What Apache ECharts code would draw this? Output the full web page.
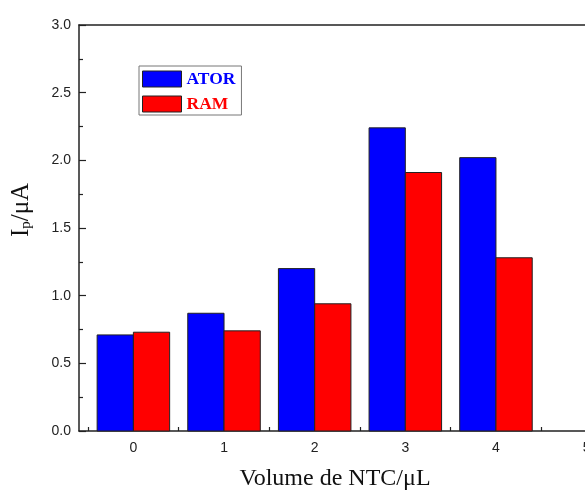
<!DOCTYPE html>
<html>
<head>
<meta charset="utf-8">
<script src="https://cdn.jsdelivr.net/npm/echarts@6/dist/echarts.min.js"></script>
<style>
  html, body { margin: 0; padding: 0; background: #fff; }
  #chart { width: 585px; height: 490px; }
</style>
</head>
<body>
<div id="chart"></div>
<script>
// Peak current vs. volume of NTC for two analytes
const volumes = [0, 1, 2, 3, 4];
const atorValues = [0.71, 0.87, 1.20, 2.24, 2.02];
const ramValues = [0.73, 0.74, 0.94, 1.91, 1.28];
const xTickLabels = [0, 1, 2, 3, 4, 5];
const xTickMarks = [-0.5, 0, 0.5, 1, 1.5, 2, 2.5, 3, 3.5, 4, 4.5, 5, 5.5];
const yTicks = [0, 0.5, 1.0, 1.5, 2.0, 2.5, 3.0];

const BAR_W = 0.4; // bar width in axis units

function barRenderer(offset) {
  return function (params, api) {
    const x = api.value(0);
    const v = api.value(1);
    const p0 = api.coord([x + offset, v]);
    const p1 = api.coord([x + offset + BAR_W, 0]);
    return {
      type: 'rect',
      shape: { x: p0[0], y: p0[1], width: p1[0] - p0[0], height: p1[1] - p0[1] },
      style: api.style({ stroke: '#222', lineWidth: 1 })
    };
  };
}

const chart = echarts.init(document.getElementById('chart'), null, { renderer: 'canvas' });

chart.setOption({
  animation: false,
  backgroundColor: '#fff',
  grid: { left: 79, top: 25, bottom: 59, right: -56, containLabel: false, outerBoundsMode: 'none' },
  legend: {
    orient: 'vertical',
    left: 139,
    top: 66,
    padding: [4, 6, 2, 3],
    itemGap: 7,
    itemWidth: 39,
    itemHeight: 16,
    borderColor: '#777',
    borderWidth: 1,
    backgroundColor: '#fff',
    data: [
      { name: 'ATOR', icon: 'rect', itemStyle: { color: '#0000ff', borderColor: '#222', borderWidth: 1 },
        textStyle: { color: '#0000ff' } },
      { name: 'RAM', icon: 'rect', itemStyle: { color: '#ff0000', borderColor: '#222', borderWidth: 1 },
        textStyle: { color: '#ff0000' } }
    ],
    textStyle: { fontFamily: 'Liberation Serif', fontWeight: 'bold', fontSize: 17.5, lineHeight: 17 }
  },
  xAxis: [{
    type: 'value',
    min: -0.6,
    max: 5.6,
    position: 'bottom',
    axisLine: { show: true, onZero: false, lineStyle: { color: '#222', width: 1.5 } },
    axisTick: { show: true, inside: true, length: 4, customValues: xTickMarks,
      lineStyle: { color: '#222', width: 1.2 } },
    splitLine: { show: false },
    axisLabel: {
      margin: 10,
      customValues: xTickLabels,
      fontFamily: 'Liberation Sans',
      fontSize: 14,
      color: '#222'
    }
  }, {
    type: 'value',
    min: -0.6,
    max: 5.6,
    position: 'top',
    axisLine: { show: true, onZero: false, lineStyle: { color: '#222', width: 1.5 } },
    axisTick: { show: false },
    axisLabel: { show: false },
    splitLine: { show: false }
  }],
  yAxis: {
    type: 'value',
    min: yTicks[0],
    max: yTicks[yTicks.length - 1],
    interval: 0.5,
    axisLine: { show: true, onZero: false, lineStyle: { color: '#222', width: 1.5 } },
    axisTick: { show: true, inside: true, length: 7, lineStyle: { color: '#222', width: 1.2 } },
    minorTick: { show: true, splitNumber: 2, length: 4, lineStyle: { color: '#222', width: 1.2 } },
    splitLine: { show: false },
    axisLabel: {
      margin: 8,
      fontFamily: 'Liberation Sans',
      fontSize: 14,
      color: '#222',
      formatter: function (v) { return v.toFixed(1); }
    }
  },
  graphic: [{
    // y-axis title, rotated to read bottom-to-top
    type: 'text',
    x: 21,
    y: 210,
    rotation: Math.PI / 2,
    style: {
      text: '{i|I}{sub|p}{i|/μA}',
      align: 'center',
      verticalAlign: 'middle',
      rich: {
        i: { fontFamily: 'Liberation Serif', fontSize: 25, fill: '#111', lineHeight: 25 },
        sub: { fontFamily: 'Liberation Serif', fontSize: 15, fill: '#111', lineHeight: 25,
          verticalAlign: 'bottom', padding: [14, 0, 0, 0] }
      }
    }
  }, {
    type: 'text',
    x: 335,
    y: 479,
    style: {
      text: 'Volume de NTC/μL',
      fontFamily: 'Liberation Serif',
      fontSize: 24,
      fill: '#111',
      align: 'center',
      verticalAlign: 'middle'
    }
  }],
  series: [{
    name: 'ATOR',
    type: 'custom',
    renderItem: barRenderer(-BAR_W),
    itemStyle: { color: '#0000ff' },
    encode: { x: 0, y: 1 },
    data: volumes.map((v, i) => [v, atorValues[i]])
  }, {
    name: 'RAM',
    type: 'custom',
    renderItem: barRenderer(0),
    itemStyle: { color: '#ff0000' },
    encode: { x: 0, y: 1 },
    data: volumes.map((v, i) => [v, ramValues[i]])
  }]
});
</script>
</body>
</html>
